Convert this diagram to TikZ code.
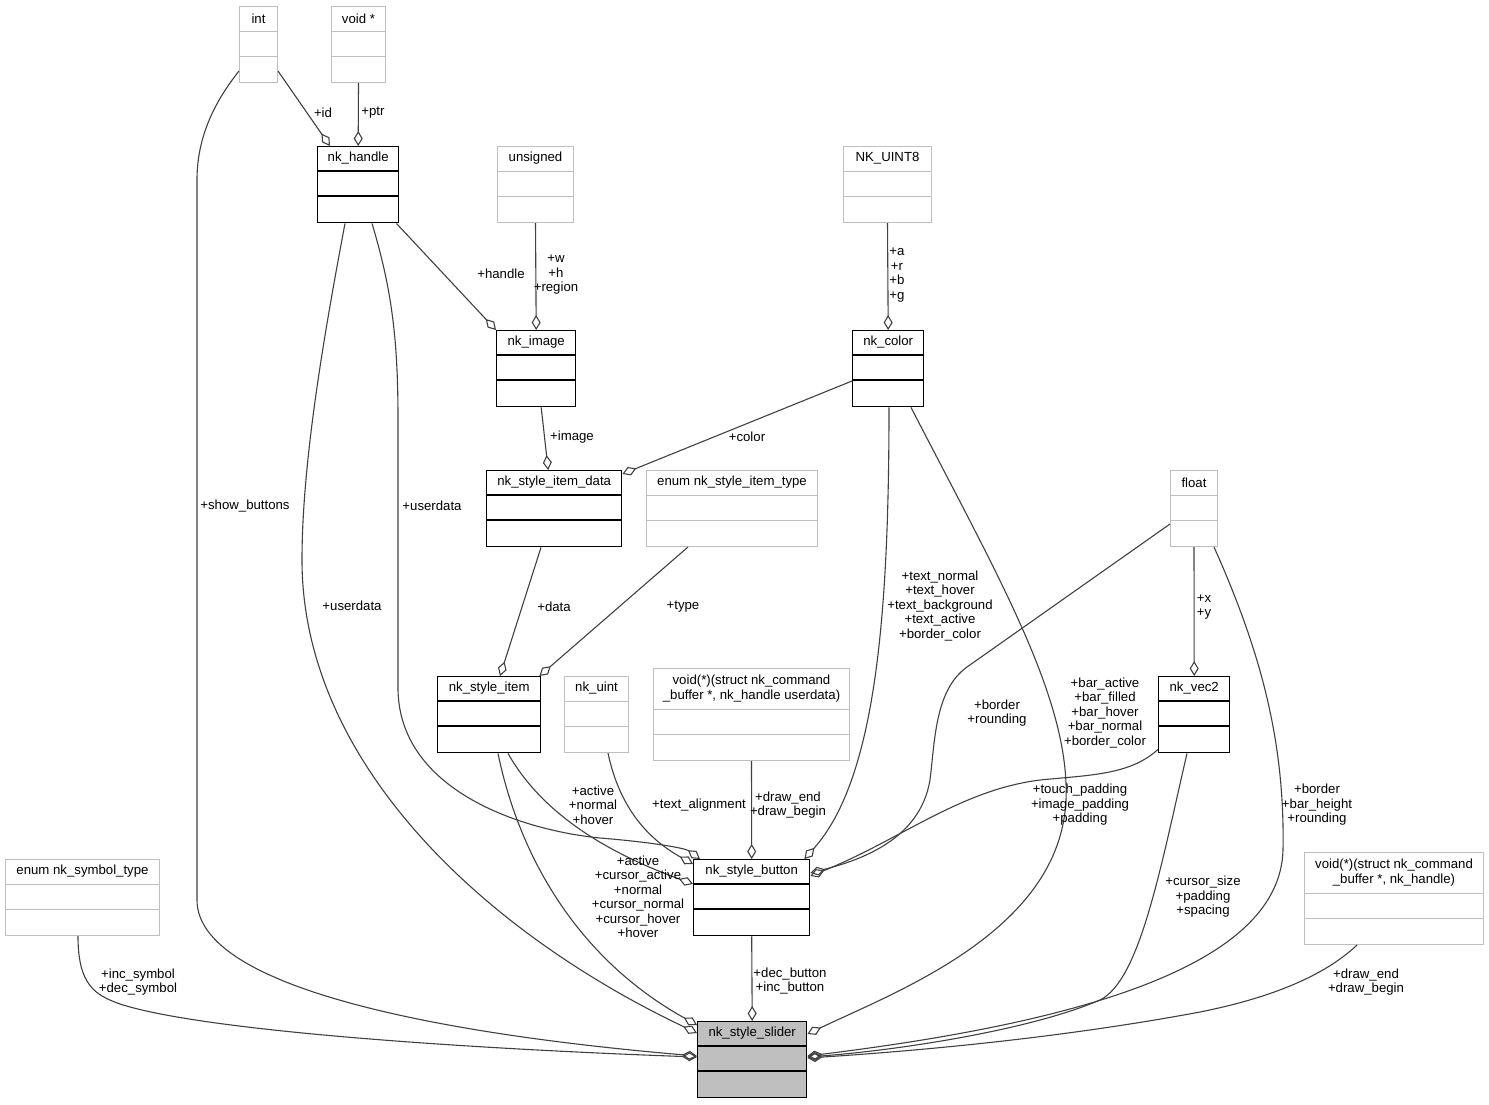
\documentclass[tikz,border=0pt]{standalone}
\usepackage{fontspec}
\setmainfont{Liberation Sans}
\usetikzlibrary{calc}
\usetikzlibrary{arrows.meta}
\definecolor{edgegray}{HTML}{404040}
\definecolor{boxgray}{HTML}{BFBFBF}
\newcommand{\docfont}{\fontsize{13.2}{14.5}\selectfont}
% box with a title row and two empty rows: style, name, top left, width, title height, title
\newcommand{\umlclass}[6]{%
  \node[#1, anchor=north west, minimum width=#4, minimum height=#5+51] (#2) at (#3) {};
  \node[font=\docfont, inner sep=0pt, align=center] at ($(#2.north)+(0,#5/2)$) {#6};
  \draw[#1, fill=none] ($(#2.north west)+(0,#5)$) -- ($(#2.north east)+(0,#5)$);
  \draw[#1, fill=none] ($(#2.north west)+(0,#5+25)$) -- ($(#2.north east)+(0,#5+25)$);
}

\begin{document}
\begin{tikzpicture}[x=1pt,y=-1pt,
    typebox/.style={draw=boxgray, line width=1pt, inner sep=0pt},
    classbox/.style={draw=black, line width=1.4pt, inner sep=0pt},
    rootbox/.style={draw=black, fill=boxgray, line width=1.4pt, inner sep=0pt},
    memberof/.style={draw=edgegray, line width=1.1pt, -{Diamond[open,length=15pt,width=9pt]}},
    lbl/.style={font=\docfont, inner sep=0pt, align=center}]
  \useasboundingbox (0,0) rectangle (1489,1104);

  % types and classes
  \umlclass{typebox}{int}{239,6}{38}{25}{int}
  \umlclass{typebox}{voidp}{331,6}{54}{25}{void *}
  \umlclass{classbox}{handle}{317,146}{81}{25}{nk\_handle}
  \umlclass{typebox}{unsigned}{497,146}{76}{25}{unsigned}
  \umlclass{typebox}{uinteight}{843,146}{88}{25}{NK\_UINT8}
  \umlclass{classbox}{image}{496,330}{79}{25}{nk\_image}
  \umlclass{classbox}{color}{852,330}{71}{25}{nk\_color}
  \umlclass{classbox}{itemdata}{486,470}{135}{25}{nk\_style\_item\_data}
  \umlclass{typebox}{itemtype}{646,470}{171}{25}{enum nk\_style\_item\_type}
  \umlclass{typebox}{float}{1170,470}{47}{25}{float}
  \umlclass{classbox}{item}{437,676}{103}{25}{nk\_style\_item}
  \umlclass{typebox}{nkuint}{564,676}{64}{25}{nk\_uint}
  \umlclass{typebox}{drawfn}{653,668}{196}{41}{void(*)(struct nk\_command\\\_buffer *, nk\_handle userdata)}
  \umlclass{classbox}{vec}{1158,676}{71}{25}{nk\_vec2}
  \umlclass{classbox}{button}{693,859}{116}{25}{nk\_style\_button}
  \umlclass{typebox}{symbol}{5,859}{154}{25}{enum nk\_symbol\_type}
  \umlclass{typebox}{drawfnh}{1304,852}{179}{41}{void(*)(struct nk\_command\\\_buffer *, nk\_handle)}
  \umlclass{rootbox}{slider}{697,1021}{109}{25}{nk\_style\_slider}

  % members
  \draw[memberof] ($(int.north east)+(0,65)$) -- ($(handle.north west)+(13,0)$);
  \draw[memberof] (voidp.south) -- (handle.north);
  \draw[memberof] ($(handle.south east)+(-3,0)$) -- (image.north west);
  \draw[memberof] (unsigned.south) -- (image.north);
  \draw[memberof] (uinteight.south) -- (color.north);
  \draw[memberof] ($(image.south)+(5,0)$) -- ($(itemdata.north)+(-6,0)$);
  \draw[memberof] ($(color.north west)+(0,51)$) -- ($(itemdata.north east)+(0,4)$);
  \draw[memberof] ($(itemdata.south west)+(55,0)$) -- ($(item.north west)+(63,0)$);
  \draw[memberof] ($(itemtype.south west)+(42,0)$) -- ($(item.north east)+(-2,0)$);
  \draw[memberof] (float.south) -- (vec.north);
  \draw[memberof] (drawfn.south) -- (button.north);
  \draw[memberof] (button.south) -- (slider.north);

  \draw[memberof] ($(int.north west)+(0,65)$) .. controls (212,105) and (197,140) .. (197,180)
    -- (197,900) .. controls (197,990) and (450,1035) .. ($(slider.north west)+(0,35)$);
  \draw[memberof] ($(handle.south west)+(55,0)$) .. controls (392,290) and (398,340) .. (398,420)
    -- (398,690) .. controls (400,790) and (520,830) .. (600,838)
    .. controls (650,842) and (685,848) .. ($(button.north west)+(7,0)$);
  \draw[memberof] ($(handle.south west)+(28,0)$) .. controls (325,330) and (302,460) .. (302,560)
    .. controls (302,760) and (480,930) .. ($(slider.north west)+(0,12)$);
  \draw[memberof] ($(item.south west)+(71,0)$) .. controls (540,810) and (600,850) .. ($(button.north west)+(0,25)$);
  \draw[memberof] ($(item.south west)+(61,0)$) .. controls (520,860) and (580,960) .. ($(slider.north west)+(0,4)$);
  \draw[memberof] ($(nkuint.south west)+(44,0)$) .. controls (620,810) and (650,840) .. ($(button.north west)+(0,5)$);
  \draw[memberof] ($(color.south west)+(37,0)$) .. controls (889,620) and (875,780) .. ($(button.north east)+(-6,0)$);
  \draw[memberof] ($(color.south west)+(59,0)$) .. controls (1000,580) and (1070,700) .. (1066,800)
    .. controls (1060,930) and (900,990) .. ($(slider.north east)+(0,13)$);
  \draw[memberof] ($(float.north west)+(0,54)$) -- (967,667) .. controls (935,690) and (935,740) .. (930,780)
    .. controls (920,840) and (860,860) .. ($(button.north east)+(0,14)$);
  \draw[memberof] ($(vec.south west)+(0,-4)$) .. controls (1130,775) and (1090,775) .. (1040,780)
    .. controls (960,790) and (900,840) .. ($(button.north east)+(0,17)$);
  \draw[memberof] ($(float.south east)+(-4,0)$) .. controls (1260,650) and (1285,740) .. (1283,850)
    .. controls (1280,960) and (1100,1020) .. ($(slider.north east)+(0,35)$);
  \draw[memberof] ($(vec.south west)+(29,0)$) .. controls (1160,870) and (1140,980) .. (1100,1000)
    .. controls (1030,1030) and (900,1050) .. ($(slider.north east)+(0,36)$);
  \draw[memberof] ($(symbol.south west)+(73,0)$) .. controls (78,985) and (95,995) .. (120,1004)
    .. controls (200,1030) and (450,1048) .. ($(slider.north west)+(0,36)$);
  \draw[memberof] ($(drawfnh.south west)+(53,0)$) .. controls (1320,980) and (1260,1000) .. (1200,1012)
    .. controls (1050,1040) and (900,1052) .. ($(slider.north east)+(0,37)$);

  % labels
  \node[lbl] (lid) at (323,113) {+id};
  \node[lbl] (lptr) at (373,113) {+ptr};
  \node[lbl] (lhandle) at (501,274) {+handle};
  \node[lbl] (lwh) at (556,275) {+w\\+h\\+region};
  \node[lbl] (largb) at (897,275) {+a\\+r\\+b\\+g};
  \node[lbl] (limage) at (572,437) {+image};
  \node[lbl] (lcolor) at (747,437) {+color};
  \node[lbl] (lshow) at (245,506) {+show\_buttons};
  \node[lbl] (luserb) at (432,506) {+userdata};
  \node[lbl] (lusers) at (352,606) {+userdata};
  \node[lbl] (ldata) at (554,607) {+data};
  \node[lbl] (ltype) at (683,607) {+type};
  \node[lbl] (ltext) at (940,606) {+text\_normal\\+text\_hover\\+text\_background\\+text\_active\\+border\_color};
  \node[lbl] (lxy) at (1204,607) {+x\\+y};
  \node[lbl] (lborder) at (997,713) {+border\\+rounding};
  \node[lbl] (lbar) at (1105,713) {+bar\_active\\+bar\_filled\\+bar\_hover\\+bar\_normal\\+border\_color};
  \node[lbl] (lstate) at (593,805) {+active\\+normal\\+hover};
  \node[lbl] (lalign) at (699,805) {+text\_alignment};
  \node[lbl] (ldrawb) at (788,805) {+draw\_end\\+draw\_begin};
  \node[lbl] (lpad) at (1080,805) {+touch\_padding\\+image\_padding\\+padding};
  \node[lbl] (lbh) at (1317,805) {+border\\+bar\_height\\+rounding};
  \node[lbl] (lcursor) at (638,897) {+active\\+cursor\_active\\+normal\\+cursor\_normal\\+cursor\_hover\\+hover};
  \node[lbl] (lsize) at (1203,897) {+cursor\_size\\+padding\\+spacing};
  \node[lbl] (lsym) at (138,982) {+inc\_symbol\\+dec\_symbol};
  \node[lbl] (lbtn) at (790,981) {+dec\_button\\+inc\_button};
  \node[lbl] (ldraws) at (1366,982) {+draw\_end\\+draw\_begin};
\end{tikzpicture}
\end{document}
